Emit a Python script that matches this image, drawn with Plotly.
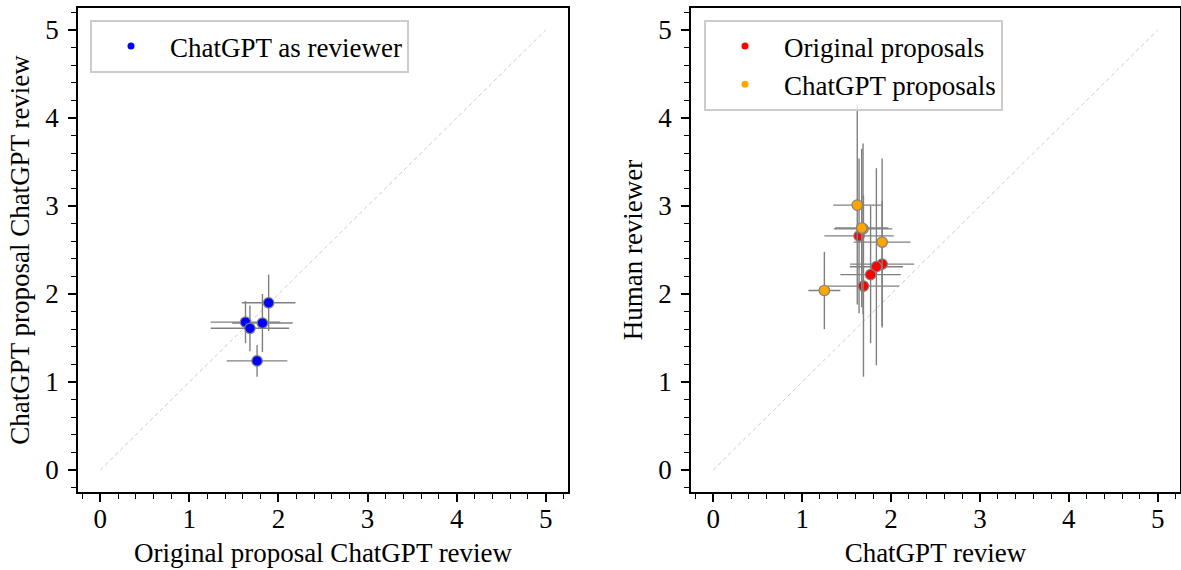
import plotly.graph_objects as go

# Left panel: ChatGPT as reviewer
left_x = [1.89, 1.63, 1.68, 1.82, 1.76]
left_y = [1.90, 1.68, 1.61, 1.67, 1.24]
left_xerr = [0.30, 0.39, 0.44, 0.34, 0.34]
left_yerr = [0.32, 0.24, 0.26, 0.33, 0.18]

# Right panel: original proposals
orig_x = [1.90, 1.64, 1.69, 1.835, 1.77]
orig_y = [2.34, 2.66, 2.09, 2.31, 2.22]
orig_xerr = [0.36, 0.39, 0.40, 0.30, 0.34]
orig_yerr = [0.72, 0.88, 1.03, 1.12, 0.78]

# Right panel: ChatGPT proposals
gpt_x = [1.90, 1.685, 1.62, 1.67, 1.25]
gpt_y = [2.59, 2.74, 3.01, 2.75, 2.04]
gpt_xerr = [0.32, 0.33, 0.27, 0.30, 0.18]
gpt_yerr = [0.95, 0.97, 1.13, 0.90, 0.44]

diag = [0, 5]
ticks = [0, 1, 2, 3, 4, 5]

FONT = "Liberation Serif"
FS = 27
GRAY = "#808080"

fig = go.Figure()

def add_points(x, y, xe, ye, color, xa, ya):
    fig.add_trace(go.Scatter(
        x=x, y=y, mode="markers", xaxis=xa, yaxis=ya, showlegend=False,
        marker=dict(color=color, size=10.5, line=dict(color=GRAY, width=1.2)),
        error_x=dict(type="data", array=xe, color=GRAY, thickness=1.4, width=0),
        error_y=dict(type="data", array=ye, color=GRAY, thickness=1.4, width=0),
    ))

def add_legend(name, color, xa, ya, legend):
    fig.add_trace(go.Scatter(
        x=[None], y=[None], mode="markers", name=name, xaxis=xa, yaxis=ya,
        marker=dict(color=color, size=7), legend=legend,
    ))

for xa, ya in [("x", "y"), ("x2", "y2")]:
    fig.add_trace(go.Scatter(
        x=diag, y=diag, mode="lines", xaxis=xa, yaxis=ya, showlegend=False,
        line=dict(color="#cccccc", width=1, dash="4px,3px"), hoverinfo="skip",
    ))

add_points(left_x, left_y, left_xerr, left_yerr, "blue", "x", "y")
add_legend("ChatGPT as reviewer", "blue", "x", "y", "legend")

add_points(orig_x, orig_y, orig_xerr, orig_yerr, "red", "x2", "y2")
add_points(gpt_x, gpt_y, gpt_xerr, gpt_yerr, "orange", "x2", "y2")
add_legend("Original proposals", "red", "x2", "y2", "legend2")
add_legend("ChatGPT proposals", "orange", "x2", "y2", "legend2")

axis_common = dict(
    range=[-0.25, 5.25], tickvals=ticks, ticks="outside", ticklen=8, tickwidth=1.6,
    tickcolor="black", showline=True, linecolor="black", linewidth=1.6, mirror=True,
    showgrid=False, zeroline=False, automargin=False,
    minor=dict(ticks="outside", dtick=0.2, tick0=0, ticklen=5, tickwidth=1.3, tickcolor="black", showgrid=False),
    tickfont=dict(family=FONT, size=FS, color="black"),
)
xaxis_common = dict(axis_common, ticklabelstandoff=-6)
yaxis_common = dict(axis_common, ticklabelstandoff=4)

W, H = 1181, 570
ml, mr, mt, mb = 78, 1, 8, 78
pw = W - ml - mr
ph = H - mt - mb
d1 = [0, 490 / pw]
d2 = [(691 - ml) / pw, 1]

legend_common = dict(
    bgcolor="rgba(255,255,255,0.8)", bordercolor="#cccccc", borderwidth=2,
    font=dict(family=FONT, size=27, color="black"), xanchor="left", yanchor="top",
    itemwidth=68, tracegroupgap=0, xref="paper", yref="paper",
)

def ttl(text, so):
    return dict(text=text, font=dict(family=FONT, size=FS, color="black"), standoff=so)

fig.update_layout(
    width=W, height=H, margin=dict(l=ml, r=mr, t=mt, b=mb),
    plot_bgcolor="white", paper_bgcolor="white",
    font=dict(family=FONT, size=FS, color="black"),
    xaxis=dict(xaxis_common, domain=d1, anchor="y", title=ttl("Original proposal ChatGPT review", 10)),
    yaxis=dict(yaxis_common, domain=[0, 1], anchor="x", title=ttl("ChatGPT proposal ChatGPT review", 8)),
    xaxis2=dict(xaxis_common, domain=d2, anchor="y2", title=ttl("ChatGPT review", 10)),
    yaxis2=dict(yaxis_common, domain=[0, 1], anchor="x2", title=ttl("Human reviewer", 8)),
    legend=dict(legend_common, x=(90 - ml) / pw, y=(492 - 20) / ph),
    legend2=dict(legend_common, x=(704 - ml) / pw, y=(492 - 20) / ph),
)

fig.write_html("out.html", config={"displayModeBar": False},
               post_script="document.body.style.margin='0px';")
